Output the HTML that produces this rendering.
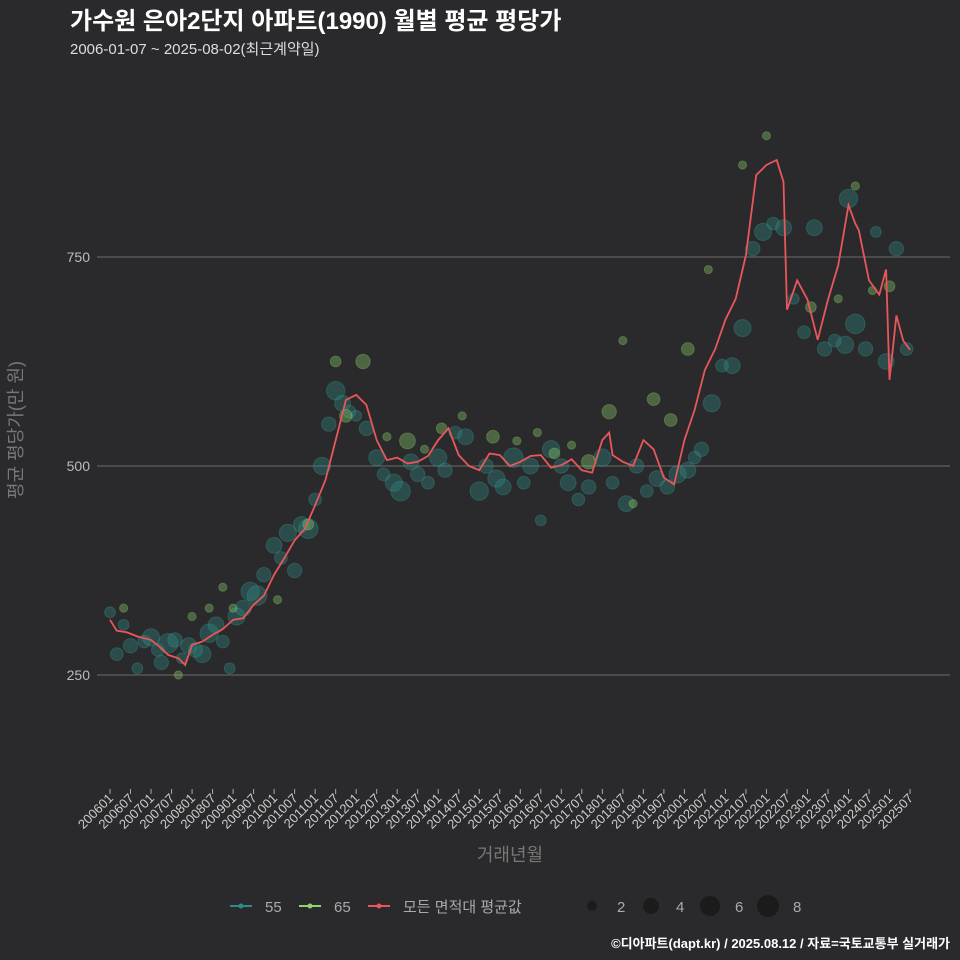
<!DOCTYPE html>
<html><head><meta charset="utf-8">
<style>
html,body{margin:0;padding:0;background:#2a2a2c;overflow:hidden;width:960px;height:960px;}
svg{display:block;}
svg text{font-family:"Liberation Sans","Noto Sans CJK KR",sans-serif;}
</style></head>
<body>
<svg id="chart" width="960" height="960" viewBox="0 0 960 960" xmlns="http://www.w3.org/2000/svg">
<rect width="960" height="960" fill="#2a2a2c"/>
<text x="70" y="29" font-size="24" font-weight="bold" fill="#ffffff">가수원 은아2단지 아파트(1990) 월별 평균 평당가</text>
<text x="70" y="54" font-size="15" fill="#dddddd">2006-01-07 ~ 2025-08-02(최근계약일)</text>
<g id="grid"></g><g id="yticks"></g><g id="xticks"></g>
<g id="pts"></g><g id="line"></g>
<text transform="translate(22,430) rotate(-90)" text-anchor="middle" font-size="18" fill="#777">평균 평당가(만 원)</text>
<text x="510" y="861" text-anchor="middle" font-size="18" fill="#777">거래년월</text>
<g id="legend"></g>
<text x="950" y="948" text-anchor="end" font-size="13" font-weight="bold" fill="#ffffff">©디아파트(dapt.kr) / 2025.08.12 / 자료=국토교통부 실거래가</text>
</svg>
<script>
const yTicks=[250,500,750];
const xTickLabels=["200601","200607","200701","200707","200801","200807","200901","200907","201001","201007","201101","201107","201201","201207","201301","201307","201401","201407","201501","201507","201601","201607","201701","201707","201801","201807","201901","201907","202001","202007","202101","202107","202201","202207","202301","202307","202401","202407","202501","202507"];
const avgMonths=["200601","200603","200606","200609","200701","200704","200706","200709","200711","200801","200804","200807","200810","200901","200904","200907","200910","201001","201004","201007","201010","201101","201104","201107","201110","201201","201204","201207","201210","201301","201304","201307","201310","201401","201404","201407","201410","201501","201504","201507","201510","201601","201604","201607","201610","201701","201704","201707","201710","201801","201803","201804","201807","201810","201901","201904","201907","201910","202001","202004","202007","202010","202101","202104","202107","202110","202201","202204","202206","202207","202210","202301","202304","202307","202310","202401","202403","202404","202407","202410","202412","202501","202503","202505","202507"];
const avgValues=[316,303,301,296,292,282,274,270,262,286,290,298,305,316,318,334,345,370,390,411,425,453,483,531,579,585,573,531,507,510,503,505,512,531,545,513,500,495,515,513,500,505,512,513,498,501,508,495,492,531,540,513,505,500,531,520,486,478,531,567,615,640,675,700,752,848,860,866,840,687,722,699,651,699,740,812,790,782,722,705,735,603,680,650,639];
const s55Months=["200601","200603","200605","200607","200609","200611","200701","200703","200704","200706","200708","200710","200712","200802","200804","200806","200808","200810","200812","200902","200904","200906","200908","200910","201001","201003","201005","201007","201009","201011","201101","201103","201105","201107","201109","201111","201201","201204","201207","201209","201212","201302","201305","201307","201310","201401","201403","201406","201409","201501","201503","201506","201508","201511","201602","201604","201607","201610","201701","201703","201706","201709","201801","201804","201808","201811","201902","201905","201908","201911","202002","202004","202006","202009","202012","202103","202106","202109","202112","202203","202206","202209","202212","202303","202306","202309","202312","202401","202403","202406","202409","202412","202503","202506"];
const s55Values=[325,275,310,285,258,290,295,280,265,288,292,270,285,280,275,300,310,290,258,320,330,350,345,370,405,390,420,375,430,425,460,500,550,590,575,565,560,545,510,490,480,470,505,490,480,510,495,540,535,470,500,485,475,510,480,500,435,520,500,480,460,475,510,480,455,500,470,485,475,490,495,510,520,575,620,620,665,760,780,790,785,700,660,785,640,650,645,820,670,640,780,625,760,640];
const s55Sizes=[2,3,2,4,2,3,6,3,4,8,4,2,5,4,6,7,5,3,2,6,5,7,8,4,5,3,6,4,5,8,3,6,4,7,5,3,2,4,5,3,6,8,5,4,3,6,4,3,5,7,4,6,5,8,3,5,2,6,4,5,3,4,6,3,5,4,3,5,4,6,5,3,4,6,3,5,6,4,6,3,5,2,3,5,4,3,6,7,8,4,2,5,4,3];
const s65Months=["200605","200709","200801","200806","200810","200901","201002","201011","201107","201110","201203","201210","201304","201309","201402","201408","201505","201512","201606","201611","201704","201709","201803","201807","201810","201904","201909","202002","202008","202106","202201","202302","202310","202403","202408","202501"];
const s65Values=[330,250,320,330,355,330,340,430,625,560,625,535,530,520,545,560,535,530,540,515,525,505,565,650,455,580,555,640,735,860,895,690,700,835,710,715];
const s65Sizes=[1,1,1,1,1,1,1,2,2,3,4,1,5,1,2,1,3,1,1,2,1,4,4,1,1,3,3,3,1,1,1,2,1,1,1,2];

const X0=110, PXM=3.419;
function mIdx(s){return (+s.slice(0,4)-2006)*12+(+s.slice(4,6)-1);}
function xS(s){return X0+mIdx(s)*PXM;}
function yS(v){return 466-(v-500)*0.836;}
function rS(n){return 3.1*Math.sqrt(n)+1;}
const NS="http://www.w3.org/2000/svg";
function mk(tag,attrs,parent){const e=document.createElementNS(NS,tag);for(const k in attrs)e.setAttribute(k,attrs[k]);parent.appendChild(e);return e;}
const grid=document.getElementById('grid'),yt=document.getElementById('yticks'),xt=document.getElementById('xticks');
yTicks.forEach(v=>{
 const l=mk('line',{x1:97,x2:950,y1:yS(v),y2:yS(v),stroke:'#5f5f5f','stroke-width':1.2},grid);
 
 
 const t=mk('text',{x:90,y:yS(v)+5,'text-anchor':'end','font-size':14,fill:'#bbbbbb'},yt);
 t.textContent=v;
 
 
});
xTickLabels.forEach(s=>{
 const x=xS(s);
 const tk=mk('line',{x1:x,x2:x,y1:789,y2:794,stroke:'#aaa'},xt);
 
 
 const t=mk('text',{transform:`translate(${x+4},${799}) rotate(-45)`,'text-anchor':'end','font-size':13,fill:'#cccccc'},xt);
 t.textContent=s;
 
 
});
const pts=document.getElementById('pts');
s55Months.forEach((m,i)=>{
 const c=mk('circle',{cx:xS(m),cy:yS(s55Values[i]),r:rS(s55Sizes[i]),fill:'#2e8c88','fill-opacity':0.35,stroke:'#3aa09a','stroke-opacity':0.3},pts);
 
 
});
s65Months.forEach((m,i)=>{
 const c=mk('circle',{cx:xS(m),cy:yS(s65Values[i]),r:rS(s65Sizes[i]),fill:'#8fd46e','fill-opacity':0.35,stroke:'#8fd46e','stroke-opacity':0.3},pts);
 
 
});
const d=avgMonths.map((m,i)=>(i?'L':'M')+xS(m).toFixed(1)+','+yS(avgValues[i]).toFixed(1)).join(' ');
const p=mk('path',{d:d,fill:'none',stroke:'#e8575a','stroke-width':1.8},document.getElementById('line'));


const lg=document.getElementById('legend');
[["55","#2e8c88",230],["65","#8fd46e",299],["모든 면적대 평균값","#e8575a",368]].forEach(e=>{
 const g=mk('g',{},lg);
 
 
 mk('line',{x1:e[2],x2:e[2]+22,y1:906,y2:906,stroke:e[1],'stroke-width':2},g);
 mk('circle',{cx:e[2]+11,cy:906,r:2.5,fill:e[1]},g);
 const t=mk('text',{x:e[2]+35,y:912,'font-size':15,fill:'#aaaaaa'},g);t.textContent=e[0];
});
[[2,592,5],[4,651,8],[6,710,10],[8,768,11]].forEach(e=>{
 const g=mk('g',{},lg);
 
 
 mk('circle',{cx:e[1],cy:906,r:e[2],fill:'#1b1b1c'},g);
 const t=mk('text',{x:e[1]+25,y:912,'font-size':15,fill:'#aaaaaa'},g);t.textContent=e[0];
});
</script>
</body></html>
